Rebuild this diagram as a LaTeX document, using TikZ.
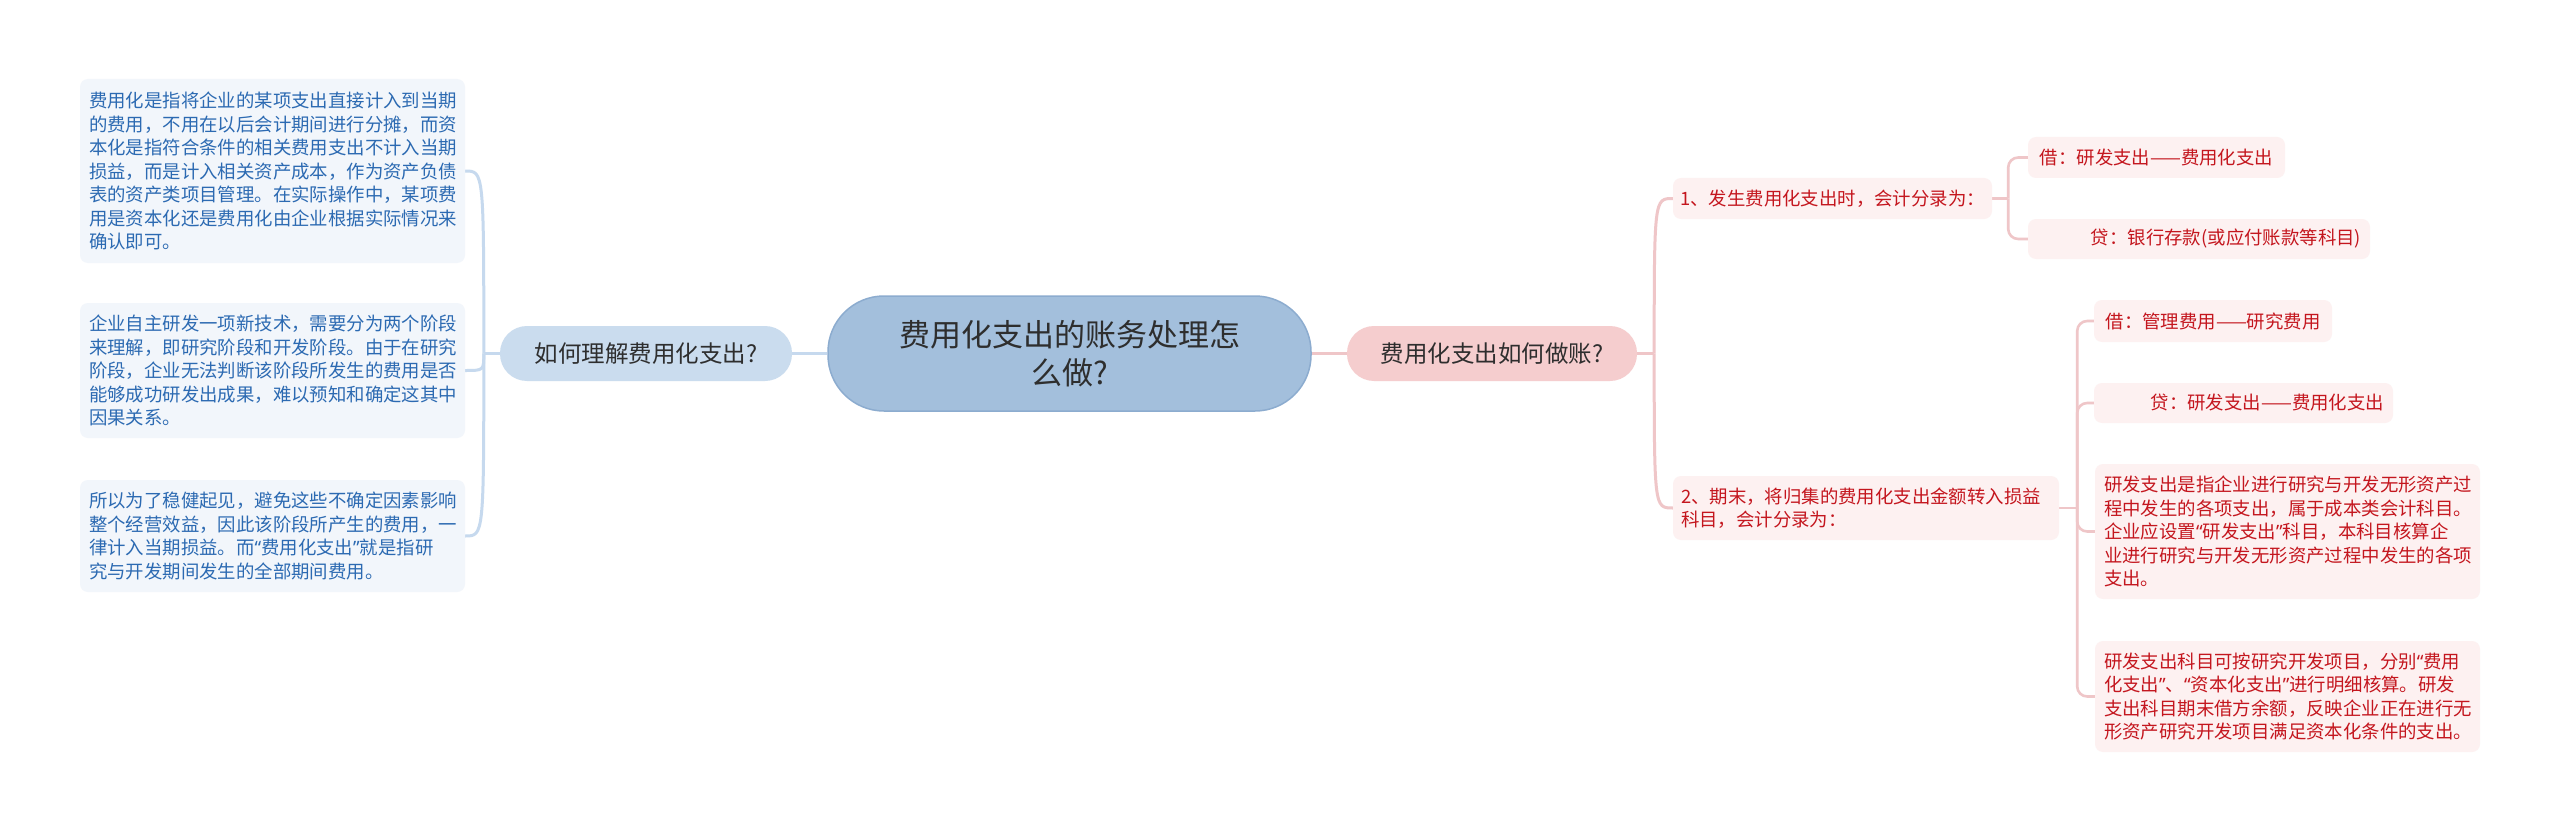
\documentclass[tikz,border=0pt]{standalone}
\usepackage{fontspec}
\setmainfont{Noto Sans CJK SC}
\newfontfamily\qtfont{Noto Sans}
\newcommand{\myoq}{{\qtfont “}}
\newcommand{\mycq}{{\qtfont ”}}
\usetikzlibrary{calc,backgrounds}
\definecolor{rootfill}{HTML}{A3BFDC}
\definecolor{rootline}{HTML}{8CACCF}
\definecolor{subLfill}{HTML}{CADCEE}
\definecolor{subRfill}{HTML}{F5CDCE}
\definecolor{darktext}{HTML}{2E2E2E}
\definecolor{leafLfill}{HTML}{F2F6FB}
\definecolor{leafLtext}{HTML}{2C6AB2}
\definecolor{leafRfill}{HTML}{FDF1F1}
\definecolor{leafRtext}{HTML}{C4161E}
\definecolor{lineL}{HTML}{C6D9EE}
\definecolor{lineR}{HTML}{EFC6C8}
\begin{document}
\begin{tikzpicture}[x=1pt,y=-1pt,
  rootbox/.style={fill=rootfill, draw=rootline, line width=1.5pt, rounded corners=56pt,
    minimum width=483pt, minimum height=115pt, inner sep=0pt, text=darktext,
    align=center, font=\fontsize{31}{38}\selectfont},
  subnode/.style={rounded corners=27pt, minimum height=55pt, inner sep=0pt,
    text=darktext, font=\fontsize{23.5}{28}\selectfont},
  leafL/.style={fill=leafLfill, text=leafLtext, rounded corners=8pt, inner xsep=9pt,
    inner ysep=0pt, text width=367pt, align=left, font=\fontsize{18.4}{23.5}\selectfont},
  leafR/.style={fill=leafRfill, text=leafRtext, rounded corners=8pt, inner xsep=9pt,
    inner ysep=0pt, font=\fontsize{18.4}{23.5}\selectfont},
  linkL/.style={draw=lineL, line width=3pt},
  linkR/.style={draw=lineR, line width=3pt},
  brk/.style={draw=lineR, line width=2.6pt, rounded corners=10pt}
]
% nodes
\node[rootbox] (root) at (1069.5,353.5) {费用化支出的账务处理怎\\么做?};
\node[subnode, fill=subLfill, minimum width=292pt] (qL) at (646,353.5) {如何理解费用化支出?};
\node[subnode, fill=subRfill, minimum width=290pt] (qR) at (1492,353.5) {费用化支出如何做账?};

\node[leafL, minimum height=184pt] (L1) at (272.5,171) {费用化是指将企业的某项支出直接计入到当期\\的费用，不用在以后会计期间进行分摊，而资\\本化是指符合条件的相关费用支出不计入当期\\损益，而是计入相关资产成本，作为资产负债\\表的资产类项目管理。在实际操作中，某项费\\用是资本化还是费用化由企业根据实际情况来\\确认即可。};
\node[leafL, minimum height=135pt] (L2) at (272.5,370.5) {企业自主研发一项新技术，需要分为两个阶段\\来理解，即研究阶段和开发阶段。由于在研究\\阶段，企业无法判断该阶段所发生的费用是否\\能够成功研发出成果，难以预知和确定这其中\\因果关系。};
\node[leafL, minimum height=112pt] (L3) at (272.5,536) {所以为了稳健起见，避免这些不确定因素影响\\整个经营效益，因此该阶段所产生的费用，一\\律计入当期损益。而\myoq 费用化支出\mycq 就是指研\\究与开发期间发生的全部期间费用。};

\node[leafR, minimum width=319pt, minimum height=41pt, inner xsep=0pt] (R1) at (1832.5,198.5) {1、发生费用化支出时，会计分录为：};
\node[leafR, minimum width=257pt, minimum height=41pt, inner xsep=0pt] (R1a) at (2156.5,157.5) {借：研发支出——费用化支出};
\node[leafR, text width=324pt, align=right, minimum height=40pt] (R1b) at (2199,239) {贷：银行存款(或应付账款等科目)};
\node[leafR, text width=370pt, inner xsep=8pt, align=left, minimum height=64pt] (R2) at (1866,508) {2、期末，将归集的费用化支出金额转入损益\\科目，会计分录为：};
\node[leafR, minimum width=238pt, minimum height=42pt, inner xsep=0pt] (R2a) at (2213,321) {借：管理费用——研究费用};
\node[leafR, text width=281pt, align=right, minimum height=40pt] (R2b) at (2243.5,403) {贷：研发支出——费用化支出};
\node[leafR, text width=367pt, align=left, minimum height=135pt] (R2c) at (2287.5,531.5) {研发支出是指企业进行研究与开发无形资产过\\程中发生的各项支出，属于成本类会计科目。\\企业应设置\myoq 研发支出\mycq 科目，本科目核算企\\业进行研究与开发无形资产过程中发生的各项\\支出。};
\node[leafR, text width=367pt, align=left, minimum height=111pt] (R2d) at (2287.5,696.5) {研发支出科目可按研究开发项目，分别\myoq 费用\\化支出\mycq 、\myoq 资本化支出\mycq 进行明细核算。研发\\支出科目期末借方余额，反映企业正在进行无\\形资产研究开发项目满足资本化条件的支出。};

\coordinate (sL) at ($(qL.west)+(-16,0)$);
\coordinate (sR) at ($(qR.east)+(17,0)$);
\coordinate (b1) at ($(R1.east)+(16,0)$);
\coordinate (b2) at ($(R2.east)+(18,0)$);

\begin{pgfonlayer}{background}
\fill[white] (0,0) rectangle (2560,832);
\useasboundingbox (0,0) rectangle (2560,832);
\draw[linkL] (root.west) -- (qL.east);
\draw[linkR] (root.east) -- (qR.west);
\draw[linkL] (qL.west) -- (sL);
\draw[linkL] (sL) .. controls (sL |- L1.east) .. (L1.east);
\draw[linkL] (sL) .. controls (sL |- L2.east) .. (L2.east);
\draw[linkL] (sL) .. controls (sL |- L3.east) .. (L3.east);
\draw[linkR] (qR.east) -- (sR);
\draw[linkR] (sR) .. controls (sR |- R1.west) .. (R1.west);
\draw[linkR] (sR) .. controls (sR |- R2.west) .. (R2.west);
\draw[brk] (R1.east) -- (b1);
\draw[brk] (b1) |- (R1a.west);
\draw[brk] (b1) |- (R1b.west);
\draw[brk] (R2.east) -- (b2);
\draw[brk] (b2) |- (R2a.west);
\draw[brk] (b2) |- (R2b.west);
\draw[brk] (b2) |- (R2c.west);
\draw[brk] (b2) |- (R2d.west);
\end{pgfonlayer}
\end{tikzpicture}
\end{document}
